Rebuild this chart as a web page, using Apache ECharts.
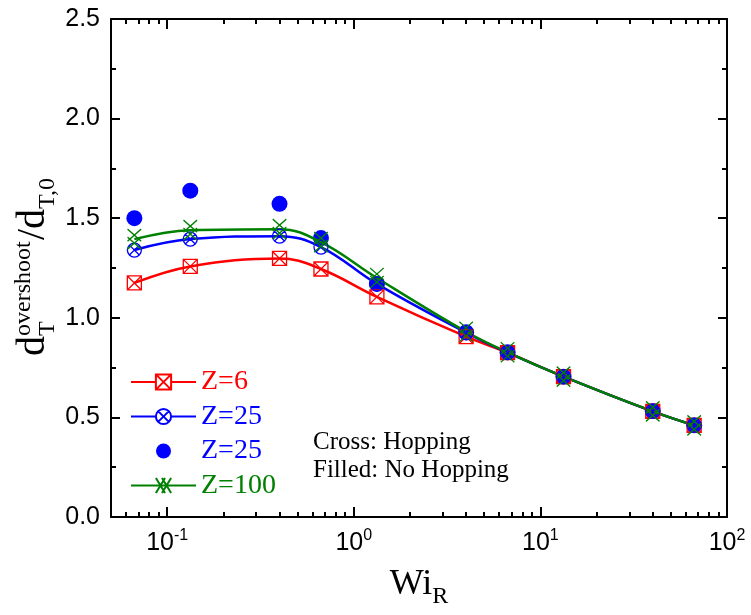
<!DOCTYPE html>
<html>
<head>
<meta charset="utf-8">
<script src="https://cdn.jsdelivr.net/npm/echarts@6/dist/echarts.min.js"></script>
<style>
html, body { margin: 0; padding: 0; background: #fff; }
#main { width: 751px; height: 615px; }
</style>
</head>
<body>
<div id="main"></div>
<script>
// Wi_R values (x, log axis)
var wi = [0.0667, 0.133, 0.4, 0.667, 1.33, 4, 6.67, 13.3, 40, 66.7];
// d_T^overshoot / d_T,0
var z6 = [1.175, 1.258, 1.298, 1.245, 1.105, 0.905, 0.825, 0.705, 0.53, 0.46];
var z25 = [1.34, 1.395, 1.41, 1.355, 1.17, 0.925, 0.825, 0.705, 0.53, 0.46];
var z25NoHop = [1.50, 1.638, 1.572, 1.40, 1.17, 0.927, 0.827, 0.704, 0.532, 0.46];
var z100 = [1.395, 1.44, 1.445, 1.38, 1.2, 0.93, 0.827, 0.705, 0.53, 0.46];

var xMajor = [0.1, 1, 10, 100];
var xMinor = [0.06, 0.07, 0.08, 0.09, 0.2, 0.3, 0.4, 0.5, 0.6, 0.7, 0.8, 0.9,
              2, 3, 4, 5, 6, 7, 8, 9, 20, 30, 40, 50, 60, 70, 80, 90];

var RED = '#ff0000', BLUE = '#0000ff', GREEN = '#008000';
var SANS = '"Liberation Sans", Arial, sans-serif';
var SERIF = '"Liberation Serif", "Times New Roman", serif';

var symSquareX = 'path://M0,0H12V12H0Z M0,0L12,12 M12,0L0,12';
var symCircleX = 'path://M0,6A6,6 0 1,1 12,6A6,6 0 1,1 0,6Z M1.76,1.76L10.24,10.24 M10.24,1.76L1.76,10.24';
var symDoubleX = 'path://M0,0L12,16 M12,0L0,16 M8,0L20,16 M20,0L8,16';
var legendDot = 'path://M0,0M19,19M2,9.5A7.5,7.5 0 1,1 17,9.5A7.5,7.5 0 1,1 2,9.5Z';

function pairs(ys) {
    return wi.map(function (x, i) { return [x, ys[i]]; });
}

var chart = echarts.init(document.getElementById('main'));

function logAxis(pos, ticks, len, showLine, showLabel) {
    return {
        type: 'log', logBase: 10, min: 0.05, max: 100, position: pos,
        axisLine: { show: showLine, onZero: false, lineStyle: { color: '#000', width: 2 } },
        axisTick: { show: true, inside: true, length: len, customValues: ticks,
                    lineStyle: { color: '#000', width: 2 } },
        axisLabel: {
            show: showLabel, customValues: ticks, margin: 11,
            formatter: function (v) {
                return '{b|10}{s|' + Math.round(Math.log10(v)) + '}';
            },
            rich: {
                b: { fontSize: 25, fontFamily: SANS, color: '#000' },
                s: { fontSize: 16, fontFamily: SANS, color: '#000', padding: [0, 0, 14, 0] }
            }
        },
        splitLine: { show: false },
        minorTick: { show: false }
    };
}

var xMain = logAxis('bottom', xMajor, 10, true, true);
xMain.name = '{a|Wi}{r|R}';
xMain.nameLocation = 'middle';
xMain.nameGap = 44;
xMain.nameTextStyle = {
    rich: {
        a: { fontSize: 36, fontFamily: SERIF, color: '#000' },
        r: { fontSize: 24, fontFamily: SERIF, color: '#000', padding: [24, 0, 0, 0] }
    }
};

function valAxis(pos, showLabel) {
    return {
        type: 'value', min: 0, max: 2.5, interval: 0.5, position: pos,
        axisLine: { show: true, onZero: false, lineStyle: { color: '#000', width: 2 } },
        axisTick: { show: true, inside: true, length: 9, lineStyle: { color: '#000', width: 2 } },
        minorTick: { show: true, splitNumber: 2, length: 5, lineStyle: { color: '#000', width: 2 } },
        axisLabel: {
            show: showLabel, margin: 11, fontSize: 25, fontFamily: SANS, color: '#000',
            formatter: function (v) { return v.toFixed(1); }
        },
        splitLine: { show: false }
    };
}

var option = {
    backgroundColor: '#fff',
    animation: false,
    grid: { left: 111, top: 19, right: 24, bottom: 98, containLabel: false, outerBoundsMode: 'none' },
    xAxis: [
        xMain,
        logAxis('bottom', xMinor, 5, false, false),
        logAxis('top', xMajor, 10, true, false),
        logAxis('top', xMinor, 5, false, false)
    ],
    yAxis: [valAxis('left', true), valAxis('right', false)],
    legend: {
        orient: 'vertical', left: 130, top: 368, padding: 0,
        itemWidth: 65, itemHeight: 19, itemGap: 6.5,
        symbolRotate: 0, symbolKeepAspect: true,
        selectedMode: false,
        textStyle: { fontFamily: SERIF, fontSize: 28 },
        data: [
            { name: 'Z=6', textStyle: { color: RED }, itemStyle: { color: '#fff' } },
            { name: 'Z=25', textStyle: { color: BLUE }, itemStyle: { color: '#fff' } },
            { name: 'Z=25 ', textStyle: { color: BLUE }, icon: legendDot },
            { name: 'Z=100', textStyle: { color: GREEN }, itemStyle: { color: '#fff' }, symbolRotate: 0 }
        ]
    },
    series: [
        {
            name: 'Z=6', type: 'line', smooth: 0.4, data: pairs(z6),
            symbol: symSquareX, symbolSize: 14,
            lineStyle: { color: RED, width: 2.5 },
            itemStyle: { color: 'rgba(0,0,0,0)', borderColor: RED, borderWidth: 1.3 }
        },
        {
            name: 'Z=25', type: 'line', smooth: 0.4, data: pairs(z25),
            symbol: symCircleX, symbolSize: 14,
            lineStyle: { color: BLUE, width: 2.5 },
            itemStyle: { color: 'rgba(0,0,0,0)', borderColor: BLUE, borderWidth: 1.3 }
        },
        {
            name: 'Z=100', type: 'line', smooth: 0.4, data: pairs(z100),
            symbol: symDoubleX, symbolSize: [20, 17], symbolRotate: 90, symbolKeepAspect: true,
            lineStyle: { color: GREEN, width: 2.5 },
            itemStyle: { color: 'rgba(0,0,0,0)', borderColor: GREEN, borderWidth: 1.3 }
        },
        {
            name: 'Z=25 ', type: 'scatter', data: pairs(z25NoHop),
            symbol: 'circle', symbolSize: 16,
            itemStyle: { color: BLUE, opacity: 1 }
        }
    ],
    graphic: [
        {
            type: 'group', x: 47, y: 356, rotation: Math.PI / 2,
            children: [
                { type: 'text', x: 0, y: -13.5, style: { text: 'd', fontSize: 40, fontFamily: SERIF, fill: '#000', verticalAlign: 'middle' } },
                { type: 'text', x: 20, y: 1, style: { text: 'T', fontSize: 24, fontFamily: SERIF, fill: '#000', verticalAlign: 'middle' } },
                { type: 'text', x: 20, y: -23, style: { text: 'overshoot', fontSize: 24, fontFamily: SERIF, fill: '#000', verticalAlign: 'middle' } },
                { type: 'text', x: 116, y: -13.5, style: { text: '/d', fontSize: 40, fontFamily: SERIF, fill: '#000', verticalAlign: 'middle' } },
                { type: 'text', x: 147, y: 1, style: { text: 'T,0', fontSize: 24, fontFamily: SERIF, fill: '#000', verticalAlign: 'middle' } }
            ]
        },
        { type: 'text', x: 313, y: 442, style: { text: 'Cross: Hopping', fontSize: 25, fontFamily: SERIF, fill: '#000', verticalAlign: 'middle' } },
        { type: 'text', x: 313, y: 470, style: { text: 'Filled: No Hopping', fontSize: 25, fontFamily: SERIF, fill: '#000', verticalAlign: 'middle' } }
    ]
};

chart.setOption(option);
</script>
</body>
</html>
